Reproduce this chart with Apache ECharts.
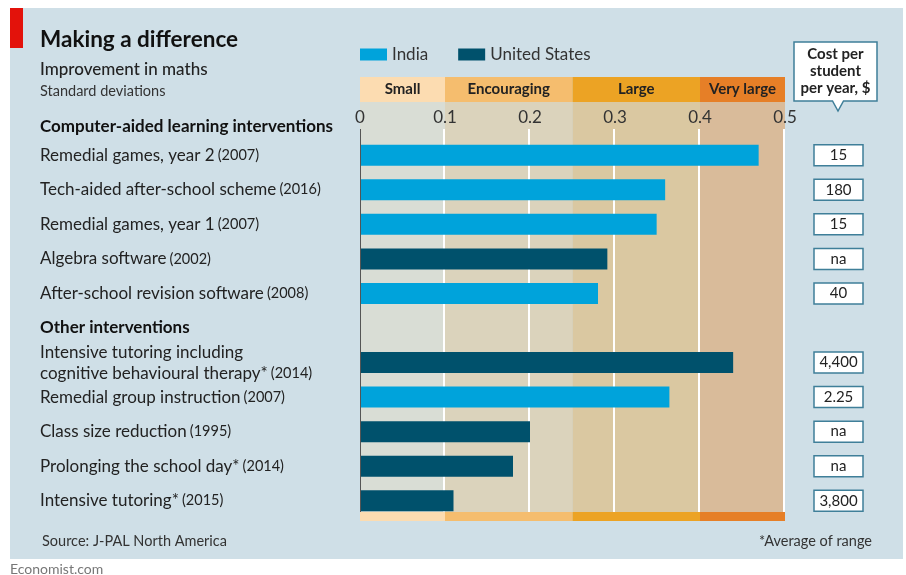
<!DOCTYPE html>
<html>
<head>
<meta charset="utf-8">
<script src="https://cdn.jsdelivr.net/npm/echarts@6/dist/echarts.min.js"></script>
<style>html,body{margin:0;padding:0;background:#fff}#c{width:906px;height:575px}</style>
</head>
<body>
<div id="c"></div>
<script>
// ---- data ----
const categories = [
  'Remedial games, year 2',
  'Tech-aided after-school scheme',
  'Remedial games, year 1',
  'Algebra software',
  'After-school revision software',
  'Other interventions',
  'Intensive tutoring including\ncognitive behavioural therapy*',
  'Remedial group instruction',
  'Class size reduction',
  'Prolonging the school day*',
  'Intensive tutoring*'
];
const years = ['2007', '2016', '2007', '2002', '2008', '', '2014', '2007', '1995', '2014', '2015'];
const india = [0.469, 0.359, 0.349, null, 0.280, null, null, 0.364, null, null, null];
const unitedStates = [null, null, null, 0.291, null, null, 0.439, null, 0.200, 0.180, 0.110];
const costs = ['15', '180', '15', 'na', '40', '', '4,400', '2.25', 'na', 'na', '3,800'];
const bandNames = ['Small', 'Encouraging', 'Large', 'Very large'];
const bandStarts = [0, 0.1, 0.25, 0.4];
const bandEnds = [0.1, 0.25, 0.4, 0.5];
const gridTicks = [0.1, 0.2, 0.3, 0.4, 0.5];

// ---- styles ----
const FONT = 'Lato';
const bandHeaderColors = ['#fcdcb1', '#f5bd6e', '#eca324', '#e67f27'];
const bandShadeColors = ['#d9ddd5', '#dbd3bc', '#dac8a1', '#d9bb9a'];
const INDIA = '#00a3db';
const US = '#00516c';

const chart = echarts.init(document.getElementById('c'), null, {renderer: 'canvas'});

function catLabel(value, idx) {
  if (!years[idx]) return '{h|' + value + '}';
  const lines = value.split('\n');
  return lines.map((l, i) => i === lines.length - 1 ? '{n|' + l + '} {y|(' + years[idx] + ')}' : '{n|' + l + '}').join('\n');
}

const option = {
  backgroundColor: '#ffffff',
  animation: false,
  textStyle: {fontFamily: FONT},
  legend: {
    left: 355, top: 41,
    itemWidth: 27, itemHeight: 12, itemGap: 30,
    icon: 'rect',
    textStyle: {fontFamily: FONT, fontSize: 17, color: '#333'},
    data: ['India', 'United States']
  },
  grid: {left: 360, top: 138, width: 425, height: 380, containLabel: false},
  xAxis: {
    type: 'value', min: 0, max: 0.5, interval: 0.1, position: 'top',
    axisLine: {show: false}, axisTick: {show: false}, splitLine: {show: false},
    axisLabel: {margin: 12, fontFamily: FONT, fontSize: 17, color: '#333',
      formatter: v => v === 0 ? '0' : v.toFixed(1)}
  },
  yAxis: {
    type: 'category', inverse: true, data: categories,
    axisLine: {show: false}, axisTick: {show: false}, splitLine: {show: false},
    axisLabel: {
      align: 'left', margin: 320, formatter: catLabel, lineHeight: 21,
      rich: {
        n: {fontFamily: FONT, fontSize: 17, color: '#222', lineHeight: 21},
        y: {fontFamily: FONT, fontSize: 14.5, color: '#222', lineHeight: 21},
        h: {fontFamily: FONT, fontSize: 17, fontWeight: 'bold', color: '#111', lineHeight: 21}
      }
    }
  },
  graphic: [
    {type: 'rect', z: -10, shape: {x: 10, y: 8, width: 893, height: 551}, style: {fill: '#cfdfe7'}},
    {type: 'rect', z: -9, shape: {x: 10, y: 8, width: 13, height: 40}, style: {fill: '#e3120b'}},
    {type: 'text', x: 40, y: 40, style: {text: 'Making a difference', fontFamily: FONT, fontSize: 22.5, fontWeight: 'bold', fill: '#111', verticalAlign: 'middle'}},
    {type: 'text', x: 40, y: 70, style: {text: 'Improvement in maths', fontFamily: FONT, fontSize: 17, fontWeight: 500, fill: '#222', verticalAlign: 'middle'}},
    {type: 'text', x: 40, y: 91, style: {text: 'Standard deviations', fontFamily: FONT, fontSize: 14.5, fill: '#333', verticalAlign: 'middle'}},
    {type: 'text', x: 40, y: 127, style: {text: 'Computer-aided learning interventions', fontFamily: FONT, fontSize: 17, fontWeight: 'bold', fill: '#111', verticalAlign: 'middle'}},
    {type: 'text', x: 42, y: 541, style: {text: 'Source: J-PAL North America', fontFamily: FONT, fontSize: 14.5, fill: '#333', verticalAlign: 'middle'}},
    {type: 'text', x: 872, y: 541, style: {text: '*Average of range', fontFamily: FONT, fontSize: 14.5, fill: '#333', align: 'right', verticalAlign: 'middle'}},
    {type: 'text', x: 10, y: 569, style: {text: 'Economist.com', fontFamily: FONT, fontSize: 14, fill: '#777', verticalAlign: 'middle'}},
    {type: 'polygon', z: 5, shape: {points: [[794, 42], [877, 42], [877, 101], [843.5, 101], [838, 111], [832.5, 101], [794, 101]]},
      style: {fill: '#fff', stroke: '#3f7f99', lineWidth: 1.5}},
    {type: 'text', z: 6, x: 835.5, y: 71, style: {text: 'Cost per\nstudent\nper year, $', fontFamily: FONT, fontSize: 15, fontWeight: 'bold', lineHeight: 16.7, fill: '#222', align: 'center', verticalAlign: 'middle'}}
  ],
  series: [
    {
      type: 'custom', name: 'bands', z: 0, silent: true,
      data: bandNames.map((n, i) => [bandStarts[i], bandEnds[i], 0, i]),
      encode: {x: [0, 1], y: 2},
      renderItem: function (params, api) {
        const i = api.value(3);
        const x0 = api.coord([api.value(0), 0])[0];
        const x1 = api.coord([api.value(1), 0])[0];
        const cs = params.coordSys;
        const top = cs.y;
        return {type: 'group', children: [
          {type: 'rect', shape: {x: x0, y: top - 61, width: x1 - x0, height: 25}, style: {fill: bandHeaderColors[i]}},
          {type: 'rect', shape: {x: x0, y: top - 36, width: x1 - x0, height: 410}, style: {fill: bandShadeColors[i]}},
          {type: 'rect', shape: {x: x0, y: top + 374, width: x1 - x0, height: 9}, style: {fill: bandHeaderColors[i]}},
          {type: 'text', x: (x0 + x1) / 2, y: top - 48.5, style: {text: bandNames[i], fontFamily: FONT, fontSize: 15, fontWeight: 'bold', fill: '#222', align: 'center', verticalAlign: 'middle'}}
        ]};
      }
    },
    {
      type: 'custom', name: 'gridlines', z: 1, silent: true,
      data: gridTicks.map(t => [t, 0]),
      encode: {x: 0, y: 1},
      renderItem: function (params, api) {
        const x = api.coord([api.value(0), 0])[0];
        const cs = params.coordSys;
        return {type: 'line', shape: {x1: x - 1, y1: cs.y - 9, x2: x - 1, y2: cs.y + 374}, style: {stroke: '#ffffff', lineWidth: 2}};
      }
    },
    {
      type: 'custom', name: 'axisline', z: 4, silent: true,
      data: [[0, 0]],
      encode: {x: 0, y: 1},
      renderItem: function (params, api) {
        const x = api.coord([api.value(0), 0])[0];
        const cs = params.coordSys;
        return {type: 'line', shape: {x1: x + 0.5, y1: cs.y - 9, x2: x + 0.5, y2: cs.y + 374}, style: {stroke: '#555', lineWidth: 1}};
      }
    },
    {
      type: 'bar', name: 'India', data: india, barWidth: 21, barGap: '-100%', z: 3,
      itemStyle: {color: INDIA}
    },
    {
      type: 'bar', name: 'United States', data: unitedStates, barWidth: 21, barGap: '-100%', z: 3,
      itemStyle: {color: US}
    },
    {
      type: 'custom', name: 'costs', z: 5, silent: true,
      data: costs.map((c, i) => [0, i]).filter(d => costs[d[1]] !== ''),
      encode: {x: 0, y: 1},
      renderItem: function (params, api) {
        const idx = api.value(1);
        const y = api.coord([0, idx])[1];
        const cs = params.coordSys;
        const x = cs.x + cs.width + 29;
        return {type: 'group', children: [
          {type: 'rect', shape: {x: x, y: y - 10.5, width: 49, height: 21}, style: {fill: '#fff', stroke: '#3f7f99', lineWidth: 1.5}},
          {type: 'text', x: x + 24.5, y: y, style: {text: costs[idx], fontFamily: FONT, fontSize: 15, fill: '#222', align: 'center', verticalAlign: 'middle'}}
        ]};
      }
    }
  ]
};
chart.setOption(option);
</script>
</body>
</html>
